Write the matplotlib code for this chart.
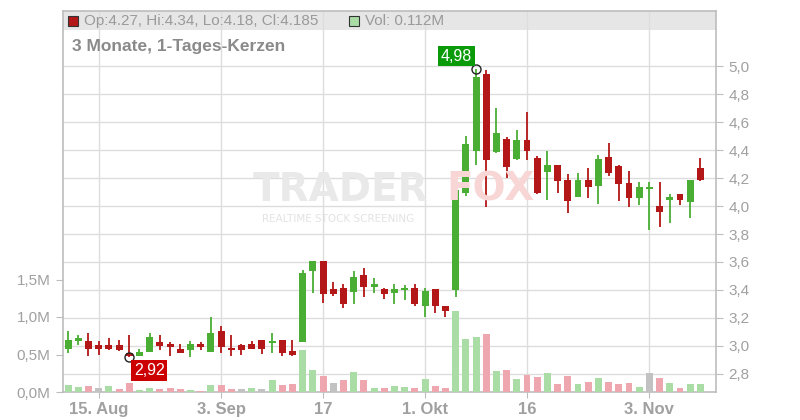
import matplotlib
matplotlib.use("Agg")
import matplotlib.pyplot as plt
from matplotlib.patches import Rectangle
import numpy as np

# ---------------- data ----------------
opens = [2.976, 3.038, 3.036, 3.007, 3.007, 3.007, 2.952, 2.929, 2.957, 3.029,
         3.017, 2.979, 2.971, 3.017, 2.957, 3.107, 2.986, 3.007, 3.017, 3.043,
         3.024, 3.043, 2.964, 3.030, 3.538, 3.607, 3.405, 3.414, 3.388, 3.507,
         3.424, 3.407, 3.381, 3.402, 3.414, 3.288, 3.407, 3.286, 3.400, 4.095,
         4.395, 4.943, 4.388, 4.479, 4.333, 4.471, 4.345, 4.245, 4.293, 4.186,
         4.067, 4.186, 4.145, 4.350, 4.286, 4.164, 4.059, 4.119, 4.000, 4.043,
         4.086, 4.029, 4.270]
highs = [3.107, 3.079, 3.095, 3.036, 3.055, 3.043, 3.081, 2.979, 3.095, 3.079,
         3.029, 3.012, 3.036, 3.029, 3.210, 3.145, 3.079, 3.017, 3.036, 3.043,
         3.093, 3.043, 3.043, 3.543, 3.607, 3.607, 3.457, 3.445, 3.536, 3.557,
         3.486, 3.417, 3.445, 3.436, 3.445, 3.414, 3.407, 3.286, 4.202, 4.500,
         4.980, 4.975, 4.698, 4.490, 4.543, 4.674, 4.360, 4.395, 4.293, 4.229,
         4.238, 4.269, 4.364, 4.452, 4.290, 4.252, 4.171, 4.171, 4.171, 4.086,
         4.086, 4.186, 4.340]
lows = [2.952, 3.009, 2.931, 2.936, 2.971, 2.967, 2.920, 2.925, 2.955, 2.971,
        2.931, 2.952, 2.924, 2.971, 2.955, 2.952, 2.931, 2.936, 2.979, 2.945,
        2.952, 2.931, 2.931, 3.029, 3.376, 3.310, 3.360, 3.274, 3.302, 3.352,
        3.381, 3.336, 3.302, 3.329, 3.288, 3.210, 3.238, 3.210, 3.352, 4.074,
        4.293, 3.995, 4.381, 4.202, 4.330, 4.329, 4.085, 4.043, 4.091, 3.948,
        4.067, 4.059, 4.014, 4.217, 4.036, 3.995, 4.007, 3.829, 3.852, 3.881,
        4.007, 3.917, 4.180]
closes = [3.043, 3.057, 2.976, 2.976, 2.980, 2.971, 2.929, 2.957, 3.064, 3.002,
          2.995, 2.952, 3.017, 2.995, 3.093, 2.995, 2.971, 2.971, 2.979, 2.979,
          3.029, 2.952, 2.936, 3.524, 3.607, 3.374, 3.374, 3.302, 3.493, 3.424,
          3.443, 3.374, 3.407, 3.414, 3.302, 3.393, 3.288, 3.250, 4.114, 4.443,
          4.919, 4.329, 4.519, 4.281, 4.471, 4.395, 4.091, 4.293, 4.181, 4.038,
          4.186, 4.138, 4.333, 4.238, 4.159, 4.059, 4.136, 4.136, 3.959, 4.062,
          4.043, 4.186, 4.185]
volumes = [0.093, 0.067, 0.080, 0.053, 0.080, 0.040, 0.120, 0.027, 0.053, 0.040,
           0.053, 0.040, 0.027, 0.013, 0.093, 0.093, 0.040, 0.040, 0.053, 0.040,
           0.160, 0.093, 0.107, 0.560, 0.293, 0.213, 0.120, 0.160, 0.267, 0.160,
           0.053, 0.053, 0.080, 0.067, 0.053, 0.173, 0.080, 0.053, 1.080, 0.707,
           0.733, 0.773, 0.280, 0.293, 0.173, 0.227, 0.200, 0.253, 0.107, 0.213,
           0.107, 0.133, 0.187, 0.133, 0.107, 0.120, 0.067, 0.253, 0.187, 0.120,
           0.053, 0.107, 0.112]
# volume direction vs previous close: u = up, d = down, n = unchanged
vol_dir = ["u","u","d","n","u","d","d","u","u","d","d","d","u",
           "d","u","d","d","n","u","n","u","d","d","u","u","d",
           "n","d","u","d","u","d","u","u","d","u","d","d","u","u","u",
           "d","u","d","u","d","d","u","d","d","u","d","u","d","d","d","u","n","d","u","d","u","u"]

xtick_pos = [3, 15, 25, 35, 45, 57]
xtick_labels = ["15. Aug", "3. Sep", "17", "1. Okt", "16", "3. Nov"]
price_ticks = [2.8, 3.0, 3.2, 3.4, 3.6, 3.8, 4.0, 4.2, 4.4, 4.6, 4.8, 5.0]
vol_ticks = [0.0, 0.5, 1.0, 1.5]

header_ohlc = "Op:4.27, Hi:4.34, Lo:4.18, Cl:4.185"
header_vol = "Vol: 0.112M"
title = "3 Monate, 1-Tages-Kerzen"

# ---------------- style ----------------
plt.rcParams["font.family"] = ["Liberation Sans", "DejaVu Sans"]
GREEN = "#4aae35"
RED = "#b31717"
VOL_COL = {"u": "#aadca6", "d": "#eea7af", "n": "#c2c2c2"}
GRID = "#dddddd"
AXC = "#bdbdbd"
TXT = "#a0a0a0"

W, H = 800, 420
fig = plt.figure(figsize=(8, 4.2), dpi=100)
L, R, T, B = 63, 716, 11, 392
ax = fig.add_axes([L / W, 1 - B / H, (R - L) / W, (B - T) / H])

def px(x, y):
    return (x / W, 1 - y / H)

n = len(opens)
xs = np.arange(n)
ax.set_xlim(-0.5, 63.53)
ax.set_ylim(2.6714, 5.3929)

# header band
ax.add_patch(Rectangle((0, (B - 30) / (B - T)), 1, (30 - T) / (B - T),
                       transform=ax.transAxes, facecolor="#e6e6e6",
                       edgecolor="none", zorder=0.2))

ax.set_axisbelow(True)
ax.grid(True, color=GRID, linewidth=1.0)
ax.set_xticks(xtick_pos)
ax.set_xticklabels(xtick_labels, fontsize=12, fontweight="bold", color=TXT)
ax.tick_params(axis="x", length=4, color=AXC, pad=3)
for s in ["top", "left", "right", "bottom"]:
    ax.spines[s].set_color(AXC)
    ax.spines[s].set_linewidth(1.2)

# watermark
fig.text(*px(341, 190), "TRADER", fontsize=28, fontweight="bold", color="#e9e9e9",
         ha="center", va="center", family="DejaVu Sans", zorder=0.5)
fig.text(*px(490, 190), "FOX", fontsize=28, fontweight="bold", color="#f8d6d6",
         ha="center", va="center", family="DejaVu Sans", zorder=0.5)
fig.text(*px(338, 219), "REALTIME STOCK SCREENING", fontsize=7.5, color="#e3e3e3",
         ha="center", va="center", family="DejaVu Sans", zorder=0.5)

# candles
opens_a = np.array(opens); closes_a = np.array(closes)
highs_a = np.array(highs); lows_a = np.array(lows)
up = closes_a >= opens_a
colors = [GREEN if u else RED for u in up]
ax.vlines(xs, lows_a, highs_a, colors=colors, linewidth=1.3, zorder=3)
bottoms = np.minimum(opens_a, closes_a)
heights = np.maximum(np.abs(closes_a - opens_a), 0.012)
ax.bar(xs, heights, bottom=bottoms, width=0.68, color=colors, linewidth=0, zorder=4)

# volume axis (twin) -- then put price ticks on the right, volume on the left
axv = ax.twinx()
axv.set_ylim(0, 5.08)
axv.set_xlim(ax.get_xlim())
for s in ["top", "left", "right", "bottom"]:
    axv.spines[s].set_visible(False)
axv.bar(xs, volumes, width=0.68, color=[VOL_COL[d] for d in vol_dir],
        linewidth=0, zorder=2)

ax.set_yticks(price_ticks)
ax.set_yticklabels([f"{t:.1f}".replace(".", ",") for t in price_ticks],
                   fontsize=11, color=TXT)
ax.yaxis.tick_right()
ax.yaxis.set_label_position("right")
ax.tick_params(axis="y", length=5, color=AXC, pad=4,
               left=False, right=True, labelleft=False, labelright=True)

axv.set_yticks(vol_ticks)
axv.set_yticklabels([f"{t:.1f}".replace(".", ",") + "M" for t in vol_ticks],
                    fontsize=11, color=TXT)
axv.yaxis.tick_left()
axv.yaxis.set_label_position("left")
axv.tick_params(axis="y", length=5, color=AXC, pad=4,
                left=True, right=False, labelleft=True, labelright=False)

# max / min annotations
imax = int(np.argmax(highs_a)); imin = int(np.argmin(lows_a))
for i, val, col, off in [(imax, highs_a[imax], "#0a9a0a", (-14.0, 9.0)),
                         (imin, lows_a[imin], "#cc0000", (14.4, -9.6))]:
    ax.plot([i], [val], "o", ms=6.5, mfc="none", mec="#222222", mew=1.0, zorder=6)
    ax.annotate(f"{val:.2f}".replace(".", ","), xy=(i, val), xytext=off,
                textcoords="offset points", ha="center", va="center",
                fontsize=11.5, color="white", zorder=7,
                bbox=dict(boxstyle="square,pad=0.16", fc=col, ec="none"))

# header
fig.patches.append(Rectangle(px(68, 26), 10 / W, 10 / H, transform=fig.transFigure,
                             facecolor=RED, edgecolor="#333333", linewidth=0.8))
fig.text(*px(84, 21), header_ohlc, fontsize=11, color="#9a9a9a", va="center", ha="left")
fig.patches.append(Rectangle(px(349, 26), 10 / W, 10 / H, transform=fig.transFigure,
                             facecolor="#aadca6", edgecolor="#333333", linewidth=0.8))
fig.text(*px(365, 21), header_vol, fontsize=11, color="#9a9a9a", va="center", ha="left")
fig.text(*px(72, 47), title, fontsize=12.5, fontweight="bold", color="#8a8a8a",
         va="center", ha="left")

fig.savefig("out.png", dpi=100, facecolor="white")
